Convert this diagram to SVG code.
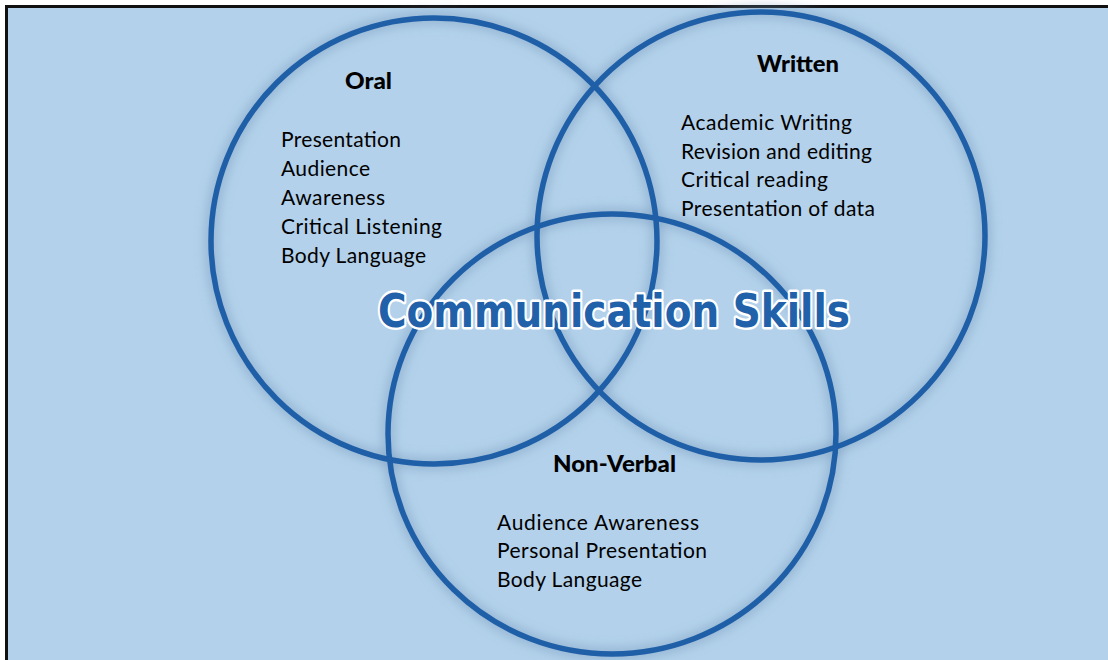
<svg xmlns="http://www.w3.org/2000/svg" width="1108" height="660" viewBox="0 0 1108 660">
<defs>
<filter id="glow" x="-20%" y="-20%" width="140%" height="140%">
<feGaussianBlur stdDeviation="6"/>
</filter>
</defs>
<style>
.ring{fill:none;stroke:#1f5fa8;stroke-width:5.5}
.shade{fill:none;stroke:#6f93b8;stroke-width:10;opacity:0.55}
.head{font-family:Lato,"Liberation Sans",sans-serif;font-weight:900;font-size:22px;fill:#000}
.item{font-family:Lato,"Liberation Sans",sans-serif;font-size:21px;fill:#000}
.title{font-family:"DejaVu Sans",Lato,sans-serif;font-weight:700;font-size:46px;fill:#2161a9;stroke:#fff;stroke-width:5;paint-order:stroke;stroke-linejoin:round}
</style>
<rect x="6.5" y="6.5" width="1120" height="670" fill="#b3d1ea" stroke="#111" stroke-width="3"/>
<g id="shadows" filter="url(#glow)">
<circle class="shade" cx="434" cy="241" r="223"/>
<circle class="shade" cx="761" cy="236" r="224"/>
<ellipse class="shade" cx="612" cy="434" rx="224" ry="220"/>
</g>
<g id="oral">
<circle class="ring" cx="434" cy="241" r="223"/>
<text class="head" x="345" y="89" textLength="47" lengthAdjust="spacingAndGlyphs">Oral</text>
<text class="item" x="281" y="147" textLength="120">Presentation</text>
<text class="item" x="281" y="176" textLength="89">Audience</text>
<text class="item" x="281" y="205" textLength="104">Awareness</text>
<text class="item" x="281" y="234" textLength="161">Critical Listening</text>
<text class="item" x="281" y="263" textLength="145">Body Language</text>
</g>
<g id="written">
<circle class="ring" cx="761" cy="236" r="224"/>
<text class="head" x="757" y="72" textLength="82" lengthAdjust="spacingAndGlyphs">Written</text>
<text class="item" x="681" y="130" textLength="171">Academic Writing</text>
<text class="item" x="681" y="159" textLength="191">Revision and editing</text>
<text class="item" x="681" y="187" textLength="147">Critical reading</text>
<text class="item" x="681" y="216" textLength="194">Presentation of data</text>
</g>
<g id="nonverbal">
<ellipse class="ring" cx="612" cy="434" rx="224" ry="220"/>
<text class="head" x="553" y="472" textLength="123" lengthAdjust="spacingAndGlyphs">Non-Verbal</text>
<text class="item" x="497" y="530" textLength="202">Audience Awareness</text>
<text class="item" x="497" y="558" textLength="210">Personal Presentation</text>
<text class="item" x="497" y="587" textLength="145">Body Language</text>
</g>
<g id="title">
<text class="title" x="378" y="327" textLength="472" lengthAdjust="spacingAndGlyphs">Communication Skills</text>
</g>
</svg>
